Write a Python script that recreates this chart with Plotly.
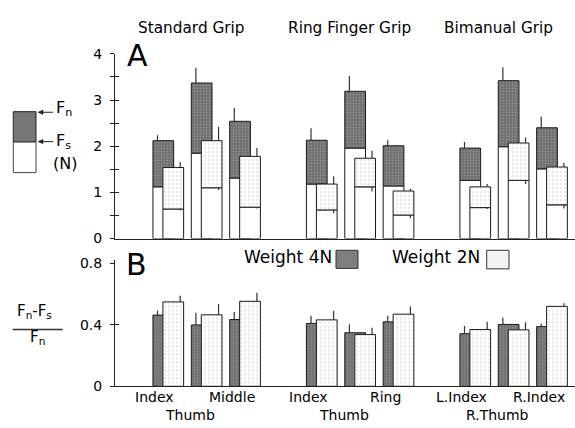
import plotly.graph_objects as go

W, H = 575, 428
def px(x): return x / W
def py(y): return 1 - y / H

# ---------------- data ----------------
group_titles = ["Standard Grip", "Ring Finger Grip", "Bimanual Grip"]
bottom_labels = ["Index", "Middle", "Index", "Ring", "L.Index", "R.Index"]
bottom_label_pair = [0, 2, 3, 5, 6, 8]
finger_labels = ["Thumb", "Thumb", "R.Thumb"]

# Panel A (N): normal force Fn and slip force Fs, weight 4N and 2N
fn_4n = [2.12, 3.37, 2.54, 2.13, 3.19, 2.01, 1.96, 3.42, 2.40]
fs_4n = [1.12, 1.85, 1.31, 1.18, 1.96, 1.14, 1.26, 1.99, 1.51]
fn_4n_err = [0.12, 0.33, 0.29, 0.26, 0.33, 0.12, 0.13, 0.29, 0.24]
fn_2n = [1.54, 2.12, 1.78, 1.18, 1.74, 1.03, 1.12, 2.07, 1.55]
fs_2n = [0.64, 1.10, 0.68, 0.62, 1.12, 0.51, 0.67, 1.26, 0.73]
fn_2n_err = [0.12, 0.30, 0.18, 0.17, 0.16, 0.05, 0.06, 0.12, 0.09]
fs_2n_err = [0.03, 0.05, 0.03, 0.07, 0.10, 0.07, 0.03, 0.08, 0.08]

# Panel B: safety margin (Fn-Fs)/Fn
sm_4n = [0.464, 0.400, 0.435, 0.410, 0.349, 0.420, 0.343, 0.403, 0.389]
sm_4n_err = [0.03, 0.08, 0.05, 0.05, 0.055, 0.04, 0.05, 0.045, 0.02]
sm_2n = [0.550, 0.466, 0.554, 0.433, 0.337, 0.470, 0.370, 0.368, 0.521]
sm_2n_err = [0.04, 0.07, 0.055, 0.06, 0.045, 0.05, 0.05, 0.05, 0.02]

# ---------------- geometry ----------------
slots = [g * 4 + k for g in range(3) for k in range(3)]
off2 = 0.26
bw = 0.54
x4 = slots
x2 = [s + off2 for s in slots]
x4e = [s - 0.15 for s in slots]
x2e = [s + off2 + 0.18 for s in slots]

DARK = dict(color="#6c6c6c", pattern=dict(shape=".", fgcolor="#b3b3b3", size=3, solidity=0.35),
            line=dict(color="#1a1a1a", width=1))
LIGHT = dict(color="#ffffff", pattern=dict(shape=".", fgcolor="#8a8a8a", size=4, solidity=0.12),
             line=dict(color="#1a1a1a", width=1))
WHITE = dict(color="#ffffff", line=dict(color="#1a1a1a", width=1))
ERR = dict(color="#333333", thickness=1.2, width=0)

fig = go.Figure()

def bar(x, y, base, marker, xa, ya):
    fig.add_trace(go.Bar(x=x, y=y, base=base, width=bw, marker=marker,
                         xaxis=xa, yaxis=ya, showlegend=False, hoverinfo="skip"))

def err(x, y, up, down, xa, ya):
    fig.add_trace(go.Scatter(x=x, y=y, mode="markers",
                             marker=dict(size=1, color="rgba(0,0,0,0)"),
                             error_y=dict(type="data", symmetric=False, array=up,
                                          arrayminus=down, visible=True, **ERR),
                             xaxis=xa, yaxis=ya, showlegend=False, hoverinfo="skip"))

zeros = [0] * 9
# Panel A
bar(x4, fs_4n, [0] * 9, WHITE, "x", "y")
bar(x4, [a - b for a, b in zip(fn_4n, fs_4n)], fs_4n, DARK, "x", "y")
bar(x2, fs_2n, [0] * 9, WHITE, "x", "y")
bar(x2, [a - b for a, b in zip(fn_2n, fs_2n)], fs_2n, LIGHT, "x", "y")
err(x4e, fn_4n, fn_4n_err, zeros, "x", "y")
err(x2e, fn_2n, fn_2n_err, zeros, "x", "y")
err(x2e, fs_2n, zeros, fs_2n_err, "x", "y")

# Panel B
bar(x4, sm_4n, [0] * 9, DARK, "x2", "y2")
bar(x2, sm_2n, [0] * 9, LIGHT, "x2", "y2")
err(x4e, sm_4n, sm_4n_err, zeros, "x2", "y2")
err(x2e, sm_2n, sm_2n_err, zeros, "x2", "y2")

# dummy traces for overlay tick axes
fig.add_trace(go.Scatter(x=[None], y=[None], xaxis="x", yaxis="y3", showlegend=False))
fig.add_trace(go.Scatter(x=[None], y=[None], xaxis="x2", yaxis="y4", showlegend=False))

slot_px = 38.37
x0px = 163.3
xr = [(115 - x0px) / slot_px, (575 - x0px) / slot_px]

topA = [py(239.5), py(47.7)]
topB = [py(393), py(393 - 0.82 * 159.4)]

FONT = "DejaVu Sans"

common_x = dict(range=xr, showgrid=False, zeroline=False, showticklabels=False, ticks="",
                showline=True, linecolor="#222", linewidth=1)
fig.update_layout(
    width=W, height=H, margin=dict(l=0, r=0, t=0, b=0), autosize=False,
    paper_bgcolor="white", plot_bgcolor="rgba(0,0,0,0)", barmode="overlay",
    font=dict(family=FONT, color="black", size=14),
    xaxis=dict(domain=[px(115), 1], anchor="y", **common_x),
    xaxis2=dict(domain=[px(115), 1], anchor="y2", **common_x),
    yaxis=dict(domain=topA, range=[0, 4], anchor="x", showgrid=False, zeroline=False,
               showline=True, linecolor="#222", linewidth=1,
               tickmode="array", tickvals=[0, 1, 2, 3, 4],
               ticks="outside", ticklen=4, tickcolor="#222", ticklabelstandoff=5,
               minor=dict(dtick=0.5, tick0=0, ticks="outside", ticklen=4, tickcolor="#222"),
               tickfont=dict(size=14, family=FONT)),
    yaxis3=dict(overlaying="y", anchor="x", side="left", range=[0, 4], showgrid=False,
                zeroline=False, showline=False, tickmode="array",
                tickvals=[0.5, 1, 1.5, 2, 2.5, 3, 3.5], ticks="inside", ticklen=4,
                tickcolor="#222", showticklabels=False),
    yaxis2=dict(domain=topB, range=[0, 0.82], anchor="x2", showgrid=False, zeroline=False,
                showline=True, linecolor="#222", linewidth=1,
                tickmode="array", tickvals=[0, 0.4, 0.8],
                ticks="outside", ticklen=4, tickcolor="#222", ticklabelstandoff=5,
                tickfont=dict(size=14, family=FONT)),
    yaxis4=dict(overlaying="y2", anchor="x2", side="left", range=[0, 0.82], showgrid=False,
                zeroline=False, showline=False, tickmode="array", tickvals=[0.4],
                ticks="inside", ticklen=4, tickcolor="#222", showticklabels=False),
)

ann = []
def txt(x, y, t, size, xanchor="center", yanchor="middle", xref="paper", yref="paper"):
    ann.append(dict(x=x, y=y, text=t, xref=xref, yref=yref, showarrow=False,
                    xanchor=xanchor, yanchor=yanchor, font=dict(size=size, family=FONT, color="black")))

for t, cx in zip(group_titles, [191.5, 349, 498]):
    txt(px(cx), py(21), t, 15.3)
txt(px(137.5), py(49.5), "A", 30)
txt(px(136.5), py(266.5), "B", 30)

# bottom labels
for lab, p in zip(bottom_labels, bottom_label_pair):
    txt(slots[p] - 0.22, py(404.5), lab, 14, xref="x2")
for g, lab in enumerate(finger_labels):
    txt(slots[g * 3 + 1] - 0.3, py(422.5), lab, 14, xref="x2")

# legend B
txt(px(334), py(259), "Weight 4N", 17, xanchor="right")
txt(px(482), py(259), "Weight 2N", 17, xanchor="right")

# legend A
txt(px(54), py(104.5), "F<sub>n</sub>", 16, xanchor="left")
txt(px(54), py(139), "F<sub>s</sub>", 16, xanchor="left")
txt(px(51), py(162), "(N)", 16, xanchor="left")

# fraction label
txt(px(34), py(315.5), "F<sub>n</sub>-F<sub>s</sub>", 15)
txt(px(37), py(342.5), "F<sub>n</sub>", 15)

fig.update_layout(annotations=ann)

def tri(xt, yt):
    return (f"M {px(xt)},{py(yt)} L {px(xt + 5)},{py(yt - 2.3)} "
            f"L {px(xt + 5)},{py(yt + 2.3)} Z")

shapes = [
    dict(type="rect", xref="paper", yref="paper", x0=px(13.3), x1=px(36), y0=py(139.3), y1=py(107.7),
         fillcolor="#767676", line=dict(color="#222", width=1)),
    dict(type="rect", xref="paper", yref="paper", x0=px(13.3), x1=px(36), y0=py(171), y1=py(139.3),
         fillcolor="white", line=dict(color="#444", width=1)),
    dict(type="rect", xref="paper", yref="paper", x0=px(336), x1=px(358), y0=py(270.5), y1=py(251.7),
         fillcolor="#7e7e7e", line=dict(color="#333", width=1)),
    dict(type="rect", xref="paper", yref="paper", x0=px(486.7), x1=px(509), y0=py(271), y1=py(251.7),
         fillcolor="#f2f2f2", line=dict(color="#333", width=1)),
    dict(type="line", xref="paper", yref="paper", x0=px(12.7), x1=px(62.7), y0=py(334), y1=py(334),
         line=dict(color="#333", width=1.5)),
]
for yy in [108.3, 138.8]:
    shapes.append(dict(type="line", xref="paper", yref="paper", x0=px(41), x1=px(53),
                       y0=py(yy), y1=py(yy), line=dict(color="#222", width=1)))
    shapes.append(dict(type="path", xref="paper", yref="paper", path=tri(38, yy),
                       fillcolor="#222", line=dict(color="#222", width=0.5)))
fig.update_layout(shapes=shapes)

fig.write_html("out.html")
